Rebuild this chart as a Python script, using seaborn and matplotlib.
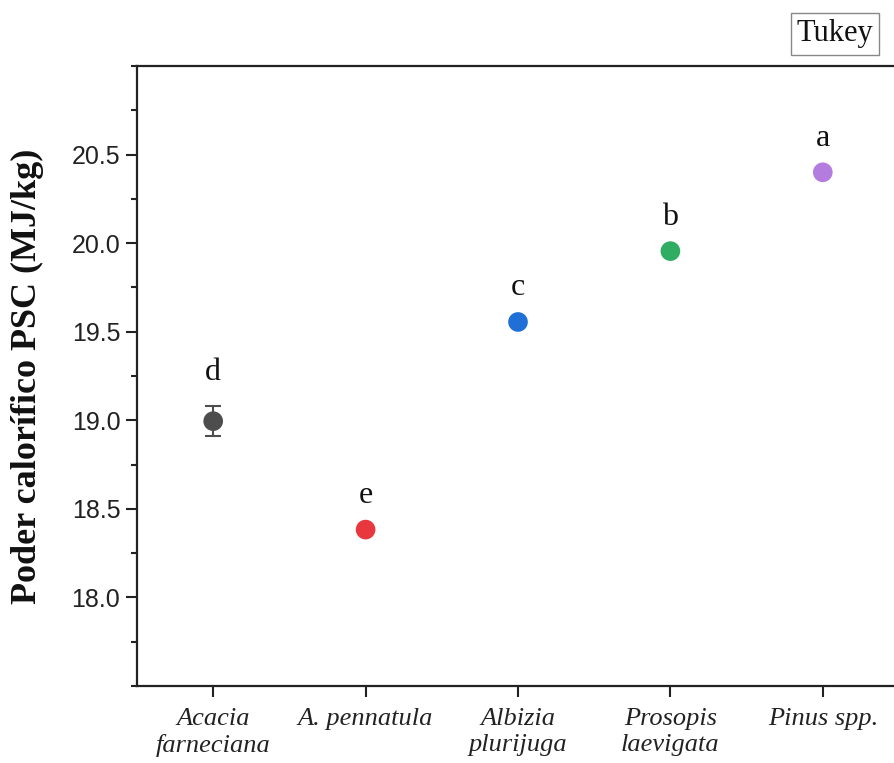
import numpy as np
import pandas as pd
import matplotlib
matplotlib.use("Agg")
import matplotlib.pyplot as plt
import seaborn as sns
from matplotlib.ticker import MultipleLocator

categories = ["Acacia\nfarneciana", "A. pennatula", "Albizia\nplurijuga", "Prosopis\nlaevigata", "Pinus spp."]
values = [18.995, 18.383, 19.555, 19.955, 20.40]
errors = [0.085, 0.0, 0.0, 0.0, 0.0]
letters = ["d", "e", "c", "b", "a"]
colors = ["#4d4d4d", "#e8383d", "#1f6fd6", "#2fae63", "#b57ce0"]

df = pd.DataFrame({"species": categories, "psc": values, "err": errors, "tukey": letters})

sns.set_style("white")
fig = plt.figure(figsize=(8.94, 7.63), dpi=100)
ax = fig.add_axes([137/894, 1-686/763, (899-137)/894, (686-66)/763])

pos = np.arange(len(categories))
ax.errorbar(pos, df["psc"], yerr=df["err"], fmt="none", ecolor="#4d4d4d",
            elinewidth=1.5, capsize=6, capthick=1.5, zorder=2)
sns.scatterplot(x=pos, y=df["psc"], hue=df["species"], palette=colors, s=200,
                edgecolor="none", legend=False, ax=ax, zorder=3)

for p, v, e, l in zip(pos, df["psc"], df["err"], df["tukey"]):
    ax.text(p, v + e + 0.11, l, ha="center", va="bottom",
            fontsize=23, family="Liberation Serif", color="#111111")

ax.set_xlim(-0.5, 4.5)
ax.set_ylim(17.5, 21.0)
ax.set_xticks(pos)
ax.set_xticklabels(categories, fontsize=19, family="Liberation Serif",
                   style="italic", color="#222222")
ax.yaxis.set_minor_locator(MultipleLocator(0.25))
ax.set_yticks([18.0, 18.5, 19.0, 19.5, 20.0, 20.5])
ax.set_yticklabels(["18.0", "18.5", "19.0", "19.5", "20.0", "20.5"])
for t in ax.get_yticklabels():
    t.set_fontsize(18)
    t.set_family("Liberation Sans")
    t.set_color("#222222")

ax.tick_params(axis="y", which="major", direction="out", length=8, width=1.5,
               color="#222222", left=True, pad=4)
ax.tick_params(axis="y", which="minor", direction="out", length=4, width=1.5,
               color="#222222", left=True)
ax.tick_params(axis="x", which="major", direction="out", length=8, width=1.5,
               color="#222222", bottom=True, pad=8)

for side in ["left", "bottom", "top", "right"]:
    ax.spines[side].set_linewidth(1.6)
    ax.spines[side].set_color("#222222")
    ax.spines[side].set_visible(True)

ax.set_xlabel("")
ax.set_ylabel("Poder calorífico PSC (MJ/kg)", fontsize=26, family="Liberation Serif",
              fontweight="bold", color="#111111")
ax.yaxis.set_label_coords(-0.122, 0.5)

fig.text(835/894, 1-34/763, "Tukey", ha="center", va="center", fontsize=22,
         family="Liberation Serif", color="#111111",
         bbox=dict(boxstyle="square,pad=0.2", facecolor="white", edgecolor="#888888", linewidth=1))

fig.savefig("out.png", dpi=100)
